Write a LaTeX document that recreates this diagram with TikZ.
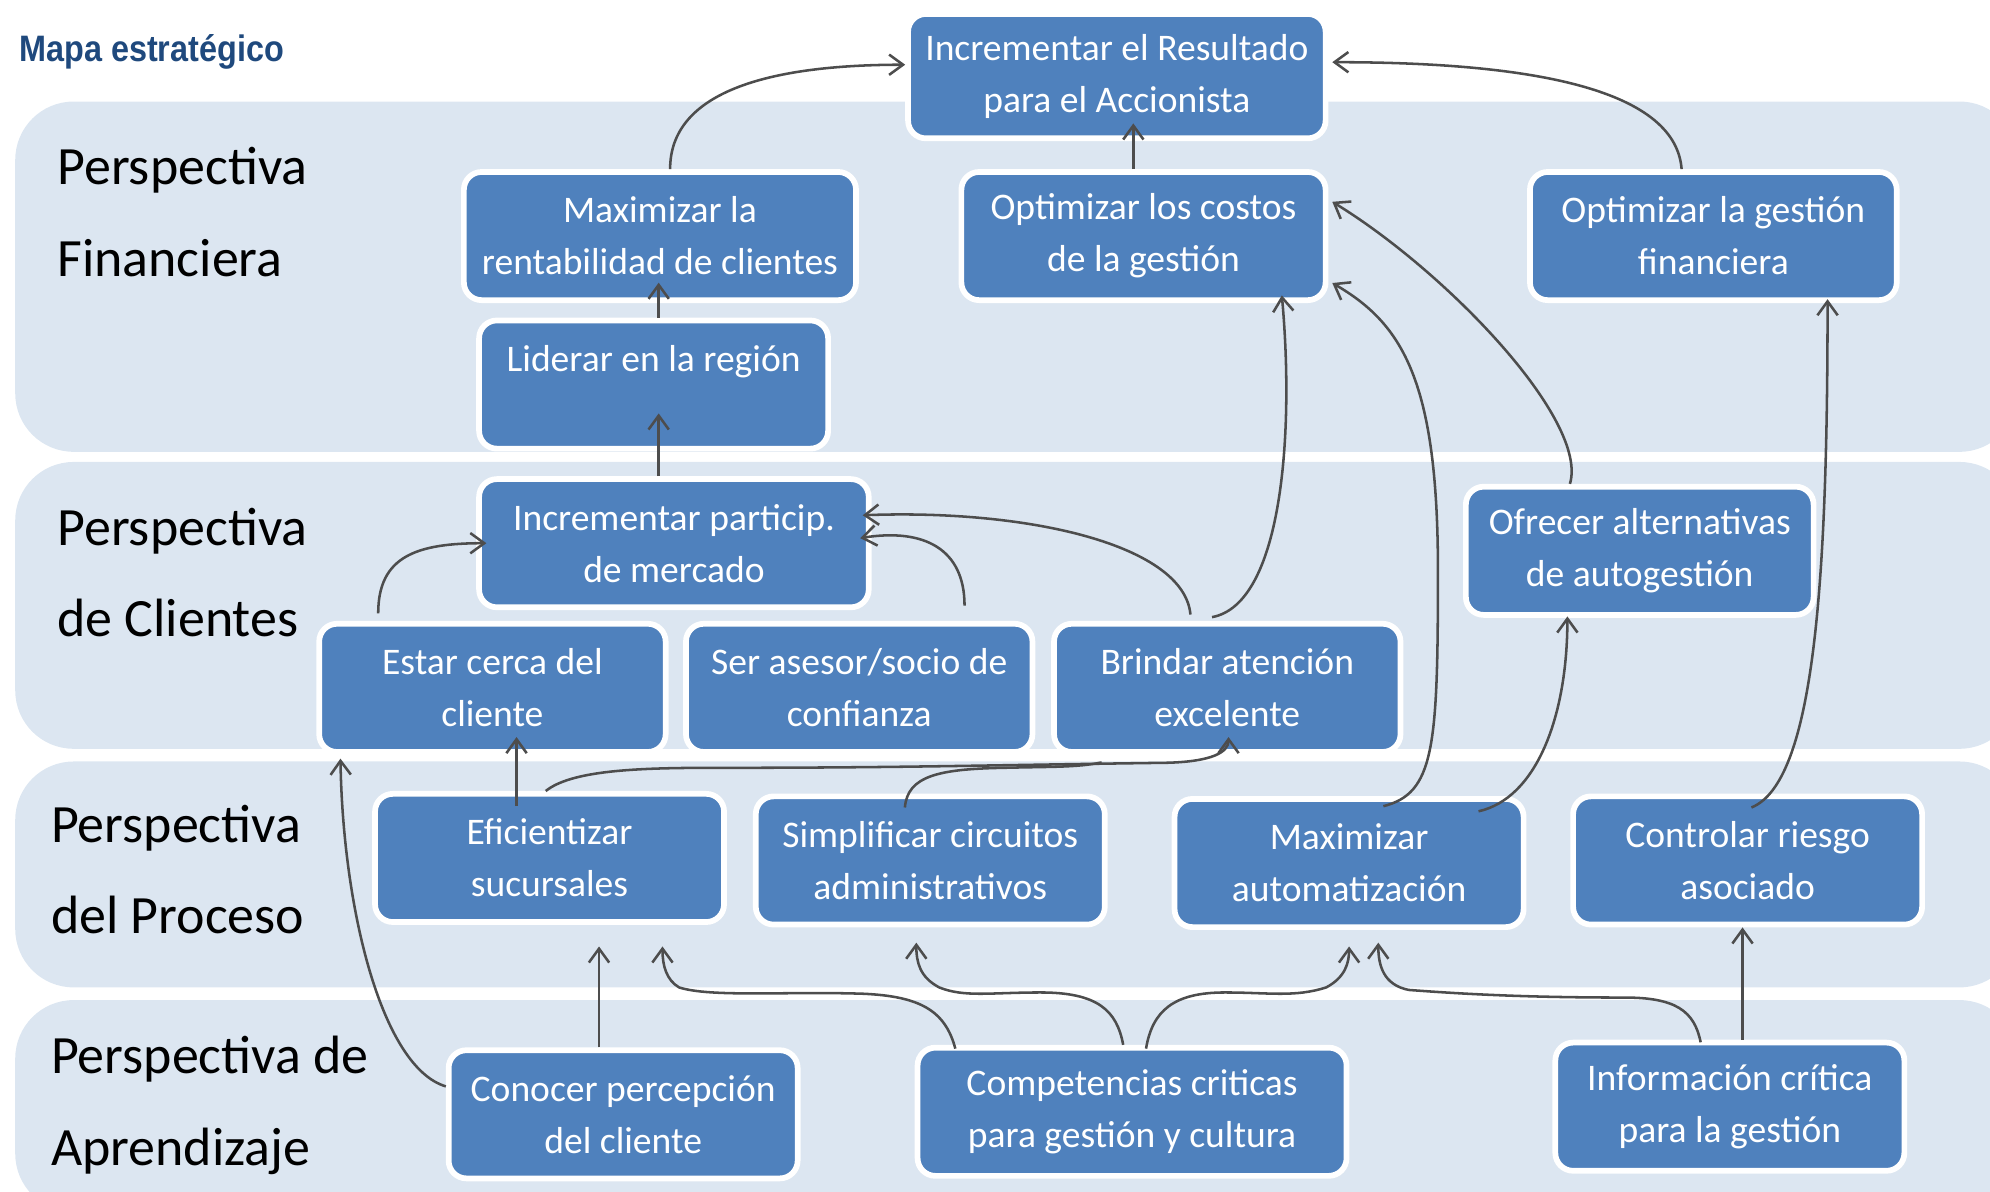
\documentclass[tikz,border=0pt]{standalone}
\usepackage{fontspec}
\setmainfont{Carlito}
\newfontfamily\titlefont[FakeStretch=0.88]{Liberation Sans}
\usetikzlibrary{arrows.meta}
\definecolor{boxblue}{HTML}{4F81BD}
\definecolor{laneblue}{HTML}{DCE6F1}
\definecolor{titleblue}{HTML}{1F497D}
\definecolor{linegray}{HTML}{4D4D4D}

\begin{document}
\begin{tikzpicture}[x=1pt,y=-1pt,
    obj/.style={rectangle,rounded corners=14pt,fill=boxblue,draw=white,line width=4.5pt,
      text=white,align=center,inner sep=0pt,minimum height=101pt,minimum width=275pt,
      font=\fontsize{29.6}{41}\selectfont},
    lane/.style={fill=laneblue,rounded corners=46pt},
    persp/.style={anchor=west,align=left,inner sep=0pt,font=\fontsize{42.5}{72}\selectfont},
    conn/.style={draw=linegray,line width=2pt,-{Straight Barb[length=11pt,width=16pt]}}]
    \useasboundingbox (0,0) rectangle (1568,939);
    \clip (0,0) rectangle (1568,939);

    \begin{scope}
    \fill[lane] (12,80) rectangle (1590,356);
    \fill[lane] (12,364) rectangle (1590,590);
    \fill[lane] (12,600) rectangle (1590,778);
    \fill[lane] (12,788) rectangle (1590,955);
    \end{scope}

    \node[anchor=west,inner sep=0pt,text=titleblue,font=\titlefont\bfseries\fontsize{29}{32}\selectfont] (title) at (15,41) {Mapa estratégico};

    \node[persp] (pfin) at (45,167) {Perspectiva\\Financiera};
    \node[persp] (pcli) at (45,451) {Perspectiva\\de Clientes};
    \node[persp] (ppro) at (40,685) {Perspectiva\\del Proceso};
    \node[persp] (papr) at (40,871) {Perspectiva de\\Aprendizaje};

    % financiera
    \node[obj,minimum width=329pt,minimum height=98pt] (res) at (880,60) {Incrementar el Resultado\\para el Accionista};
    \node[obj,minimum width=309pt] (rent) at (520,186) {Maximizar la\\rentabilidad de clientes};
    \node[obj,minimum width=287pt] (cost) at (901,186) {Optimizar los costos\\de la gestión};
    \node[obj,minimum width=289pt] (fin) at (1350,186) {Optimizar la gestión\\financiera};
    \node[obj] (lid) at (515,303) {Liderar en la región\\\mbox{}};

    % clientes
    \node[obj,minimum width=307pt] (part) at (531,428) {Incrementar particip.\\de mercado};
    \node[obj,minimum width=274pt] (ofre) at (1292,434) {Ofrecer alternativas\\de autogestión};
    \node[obj,minimum width=273pt] (cerca) at (388,542) {Estar cerca del\\cliente};
    \node[obj,minimum width=273pt] (ases) at (677,542) {Ser asesor/socio de\\confianza};
    \node[obj,minimum width=273pt] (brin) at (967,542) {Brindar atención\\excelente};

    % proceso
    \node[obj] (efic) at (433,676) {Eficientizar\\sucursales};
    \node[obj] (simp) at (733,678) {Simplificar circuitos\\administrativos};
    \node[obj] (auto) at (1063,680) {Maximizar\\automatización};
    \node[obj] (ries) at (1377,678) {Controlar riesgo\\asociado};

    % aprendizaje
    \node[obj] (cono) at (491,878) {Conocer percepción\\del cliente};
    \node[obj,minimum width=338pt] (comp) at (892,876) {Competencias criticas\\para gestión y cultura};
    \node[obj] (info) at (1363,872) {Información crítica\\para la gestión};

    \draw[conn] ([xshift=8pt]rent.north) .. controls +(0,-60) and +(-110,0) .. ([yshift=9pt]res.west);
    \draw[conn] ([xshift=-8pt]cost.north) -- ([xshift=13pt,yshift=14pt]res.south);
    \draw[conn] ([xshift=-25pt]fin.north) .. controls +(-5,-65) and +(150,0) .. ([xshift=3pt,yshift=11pt]res.east);
    \draw[conn] ([xshift=4pt]lid.north) -- ([xshift=-1pt,yshift=16pt]rent.south);

    \draw[conn] ([xshift=-12pt]part.north) -- ([xshift=4pt,yshift=30pt]lid.south);
    \draw[conn] ([xshift=-90pt,yshift=6pt]cerca.north) .. controls +(0,-45) and +(-55,0) .. ([xshift=8pt]part.west);
    \draw[conn] ([xshift=83pt,yshift=12pt]ases.north) .. controls +(0,-45) and +(50,-8) .. ([xshift=-9pt,yshift=4pt]part.east);
    \draw[conn] ([xshift=-29pt,yshift=5pt]brin.north) .. controls +(-5,-55) and +(130,-5) .. ([xshift=-7pt,yshift=22pt]part.east);
    \draw[conn] ([xshift=-12pt,yshift=3pt]brin.north) .. controls +(55,-10) and +(10,110) .. ([xshift=109pt,yshift=6pt]cost.south);
    \draw[conn] ([xshift=-55pt]ofre.north) .. controls +(15,-50) and +(90,55) .. ([xshift=3pt,yshift=27pt]cost.east);

    \draw[conn] ([xshift=27pt,yshift=-8pt]auto.north) .. controls (1130,625) and (1133,590) .. (1133,450)
        .. controls (1133,300) and (1105,255) .. ([xshift=3pt,yshift=-37pt]cost.east);
    \draw[conn] ([xshift=102pt,yshift=-12pt]auto.north) .. controls +(45,-10) and +(0,80) .. ([xshift=-57pt,yshift=1pt]ofre.south);
    \draw[conn] ([xshift=3pt,yshift=-11pt]ries.north) .. controls +(50,-20) and +(0,220) .. ([xshift=90pt,yshift=3pt]fin.south);
    \draw[conn] ([xshift=-26pt,yshift=-12pt]efic.north) -- ([xshift=19pt,yshift=14pt]cerca.south);
    \draw[conn] ([xshift=-3pt]efic.north) .. controls +(20,-16) and +(-60,0) .. (560,605)
        .. controls +(150,0) and +(-150,2) .. (920,601)
        .. controls +(35,-1) and +(0,12) .. ([xshift=1pt,yshift=14pt]brin.south);
    \draw[conn,-] ([xshift=-20pt,yshift=-11pt]simp.north) .. controls +(2,-25) and +(-50,1) .. (790,605)
        .. controls +(40,-1) and +(-20,4) .. ([xshift=-99pt,yshift=-6pt]brin.south);

    \draw[conn] ([yshift=22pt]cono.west) .. controls +(-50,-15) and +(2,120) .. ([xshift=19pt,yshift=-3pt]cerca.south west);
    \draw[conn] ([xshift=-19pt]cono.north) -- ([xshift=39pt,yshift=-17pt]efic.south);
    \draw[conn] ([xshift=32pt,yshift=-3pt]comp.north west) .. controls +(-8,-30) and +(45,2) .. (680,783)
        .. controls +(-60,-2) and +(25,8) .. (535,778)
        .. controls +(-10,-6) and +(0,15) .. ([xshift=89pt,yshift=-17pt]efic.south);
    \draw[conn] ([xshift=-7pt]comp.north) .. controls +(-5,-27) and +(45,0) .. (820,782)
        .. controls +(-40,0) and +(20,8) .. (740,778)
        .. controls +(-15,-8) and +(0,16) .. ([xshift=-11pt,yshift=-12pt]simp.south);
    \draw[conn] ([xshift=11pt,yshift=-3pt]comp.north) .. controls +(5,-30) and +(-40,0) .. (965,782)
        .. controls +(35,0) and +(-25,8) .. (1045,778)
        .. controls +(15,-8) and +(0,13) .. ([yshift=-13pt]auto.south);
    \draw[conn] ([xshift=-23pt,yshift=-2pt]info.north) .. controls +(-5,-25) and +(40,0) .. (1280,786)
        .. controls +(-80,0) and +(40,3) .. (1110,780)
        .. controls +(-20,-4) and +(0,18) .. ([xshift=23pt,yshift=-10pt]auto.south);
    \draw[conn] ([xshift=10pt]info.north) -- ([xshift=-4pt]ries.south);
\end{tikzpicture}
\end{document}
